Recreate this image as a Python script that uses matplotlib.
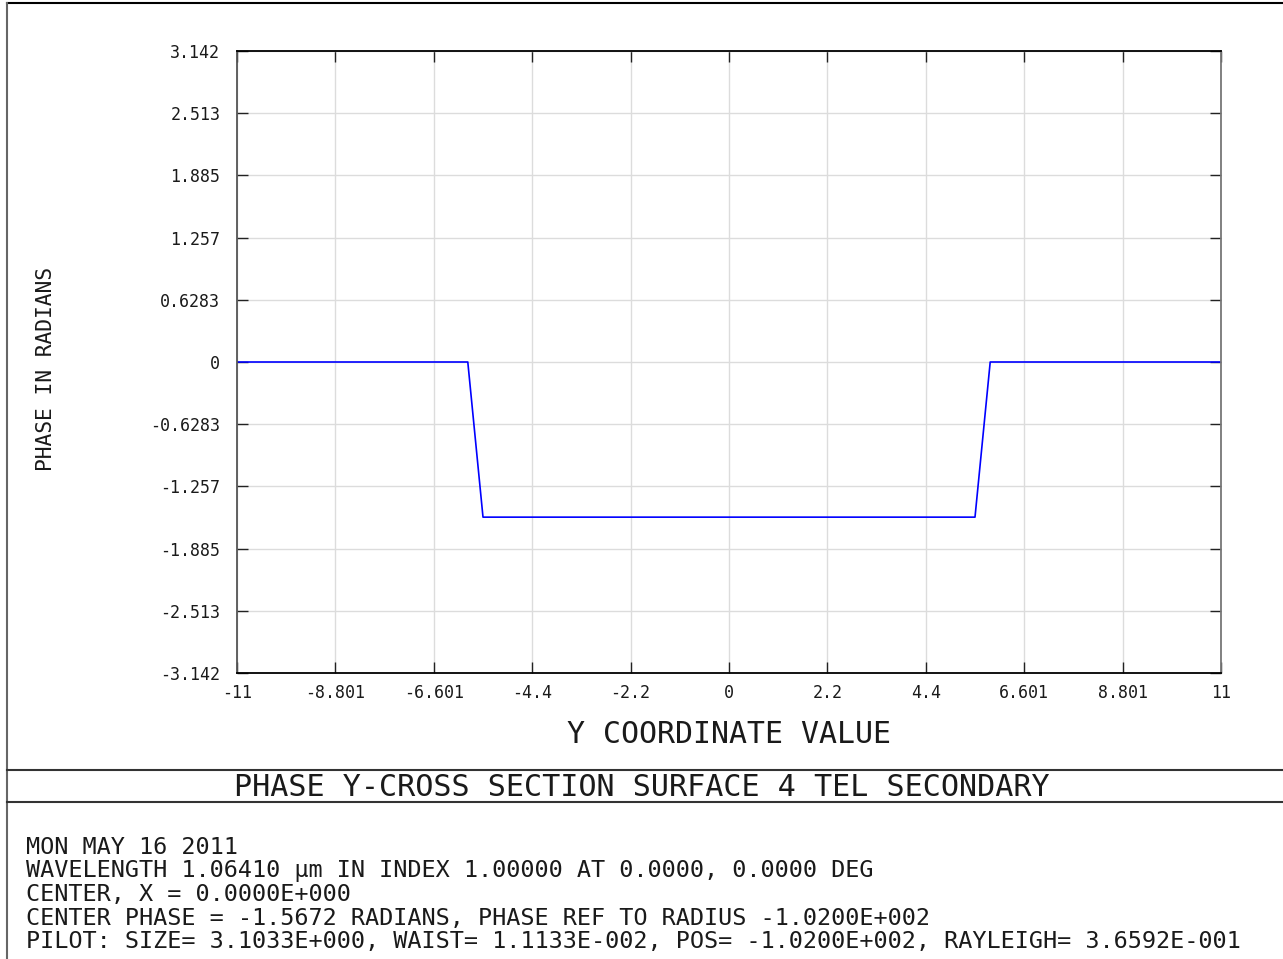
import numpy as np
import matplotlib.pyplot as plt
from matplotlib.lines import Line2D

# data
y_coord = [-11.0, -5.84, -5.5, 0.0, 5.5, 5.84, 11.0]
phase = [0.0, 0.0, -1.5672, -1.5672, -1.5672, 0.0, 0.0]

xtick_vals = [-11, -8.801, -6.601, -4.4, -2.2, 0, 2.2, 4.4, 6.601, 8.801, 11]
xtick_labels = ["-11", "-8.801", "-6.601", "-4.4", "-2.2", "0", "2.2", "4.4", "6.601", "8.801", "11"]
ytick_vals = [-3.1416, -2.5133, -1.885, -1.2566, -0.6283, 0, 0.6283, 1.2566, 1.885, 2.5133, 3.1416]
ytick_labels = ["-3.142", "-2.513", "-1.885", "-1.257", "-0.6283", "0",
                "0.6283", "1.257", "1.885", "2.513", "3.142"]

title = "PHASE Y-CROSS SECTION SURFACE 4 TEL SECONDARY"
footer = [
    "MON MAY 16 2011",
    "WAVELENGTH 1.06410 \u03bcm IN INDEX 1.00000 AT 0.0000, 0.0000 DEG",
    "CENTER, X = 0.0000E+000",
    "CENTER PHASE = -1.5672 RADIANS, PHASE REF TO RADIUS -1.0200E+002",
    "PILOT: SIZE= 3.1033E+000, WAIST= 1.1133E-002, POS= -1.0200E+002, RAYLEIGH= 3.6592E-001",
]

plt.rcParams['font.family'] = ['DejaVu Sans Mono', 'DejaVu Sans']
txt = '#1a1a1a'

W, H = 1283, 959
fig = plt.figure(figsize=(W / 100, H / 100), dpi=100)
ax = fig.add_axes([237 / W, 1 - 673 / H, (1221 - 237) / W, (673 - 51) / H])

ax.plot(y_coord, phase, color='#0000ff', lw=1.2)
ax.set_xlim(-11, 11)
ax.set_ylim(-3.1416, 3.1416)
ax.set_xticks(xtick_vals)
ax.set_xticklabels(xtick_labels, fontsize=12, color=txt)
ax.set_yticks(ytick_vals)
ax.set_yticklabels(ytick_labels, fontsize=12, color=txt)
ax.grid(True, color='#dcdcdc', lw=1)
ax.tick_params(direction='in', length=8, width=1, top=True, right=True, color='#222222')
ax.tick_params(axis='x', pad=8)
ax.tick_params(axis='y', pad=12)
ax.spines['top'].set_color('black')
ax.spines['bottom'].set_color('black')
ax.spines['left'].set_color('#555555')
ax.spines['right'].set_color('#777777')
for s in ax.spines.values():
    s.set_linewidth(1.3)

ax.set_xlabel("Y COORDINATE VALUE", fontsize=21.5, labelpad=13, color=txt)
fig.text(46 / W, 1 - 369 / H, "PHASE IN RADIANS", rotation=90, fontsize=15.3,
         ha='center', va='center', color=txt)

# frame lines
lc = '#333333'
fig.add_artist(Line2D([7 / W, 1], [1 - 3 / H, 1 - 3 / H], color='black', lw=1.5))
fig.add_artist(Line2D([7 / W, 7 / W], [0, 1 - 3 / H], color='#666666', lw=1.5))
fig.add_artist(Line2D([7 / W, 1], [1 - 770 / H, 1 - 770 / H], color=lc, lw=1.5))
fig.add_artist(Line2D([7 / W, 1], [1 - 802 / H, 1 - 802 / H], color=lc, lw=1.5))

fig.text(0.5, 1 - 787 / H, title, fontsize=21.7, ha='center', va='center', color=txt)

for i, line in enumerate(footer):
    fig.text(26 / W, 1 - (847 + i * 23.7) / H, line, fontsize=16.9, ha='left', va='center',
             color=txt)

fig.savefig("out.png", dpi=100)
